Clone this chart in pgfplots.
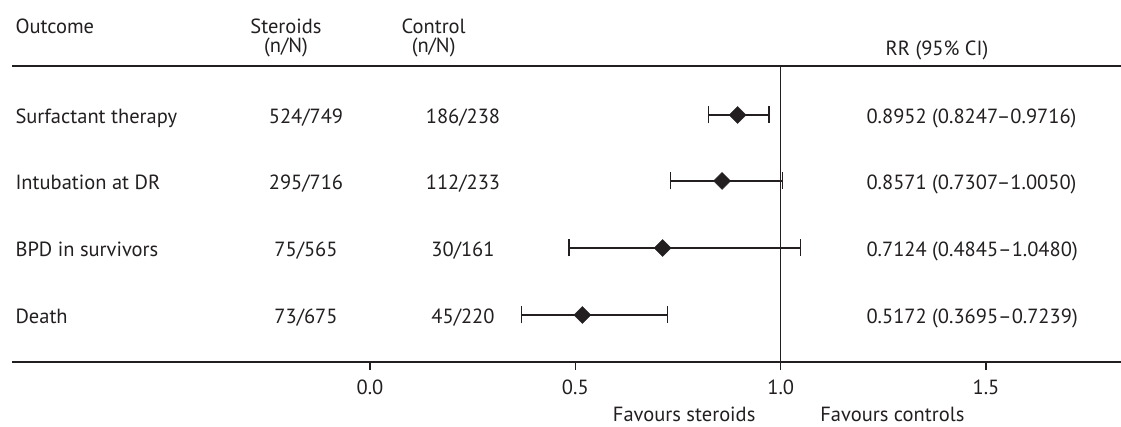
\documentclass[border=0pt]{standalone}
\usepackage{pgfplots}
\pgfplotsset{compat=1.18}
\usepackage{fontspec}
\setmainfont{PT Sans}
\definecolor{ink}{HTML}{231F20}
\begin{document}
\begin{tikzpicture}[x=1pt,y=1pt,font=\fontsize{20.5}{24}\selectfont,text=ink]
\begin{axis}[
  at={(12pt,65pt)}, anchor=south west,
  scale only axis, width=1109pt, height=296pt,
  xmin=-0.8717, xmax=1.8286, ymin=65, ymax=361,
  axis x line=box, axis y line=none,
  axis line style={ink, line width=1.2pt},
  xtick={0,0.5,1,1.5}, xticklabels={0.0,0.5,1.0,1.5},
  xtick pos=lower, xticklabel pos=lower,
  tick align=outside, major tick length=8pt,
  tick style={ink, line width=1.1pt},
  xticklabel style={anchor=base, font=\fontsize{20.5}{24}\selectfont, text=ink, yshift=-25pt},
  ytick=\empty,
  clip=false,
]
\addplot[ink, line width=1.1pt] coordinates {(1,65) (1,361)};
\addplot[ink, only marks, mark=square*, mark size=6pt,
  mark options={rotate=45, fill=ink, draw=ink},
  error bars/.cd, x dir=both, x explicit,
  error mark=|, error mark options={ink, line width=1.1pt, mark size=8.5pt, rotate=0},
  error bar style={ink, line width=1.1pt}]
coordinates {
  (0.8952,312) += (0.0764,0) -= (0.0705,0)
  (0.8571,246) += (0.1479,0) -= (0.1264,0)
  (0.7124,179) += (0.3356,0) -= (0.2279,0)
  (0.5172,112) += (0.2067,0) -= (0.1477,0)
};
% header
\node[anchor=base west] at (axis cs:-0.8717,393.5) {Outcome};
\node[anchor=base] at (axis cs:-0.2045,393.5) {Steroids};
\node[anchor=base] at (axis cs:-0.2045,374) {(n/N)};
\node[anchor=base] at (axis cs:0.155,393.5) {Control};
\node[anchor=base] at (axis cs:0.155,374) {(n/N)};
\node[anchor=base] at (axis cs:1.3806,371) {RR (95\% CI)};
% rows
\node[anchor=base west] at (axis cs:-0.8717,303.5) {Surfactant therapy};
\node[anchor=base west] at (axis cs:-0.8717,237.5) {Intubation at DR};
\node[anchor=base west] at (axis cs:-0.8717,170.5) {BPD in survivors};
\node[anchor=base west] at (axis cs:-0.8717,103.5) {Death};
\node[anchor=base] at (axis cs:-0.1558,303.5) {524/749};
\node[anchor=base] at (axis cs:-0.1558,237.5) {295/716};
\node[anchor=base] at (axis cs:-0.1558,170.5) {75/565};
\node[anchor=base] at (axis cs:-0.1558,103.5) {73/675};
\node[anchor=base] at (axis cs:0.2264,303.5) {186/238};
\node[anchor=base] at (axis cs:0.2264,237.5) {112/233};
\node[anchor=base] at (axis cs:0.2264,170.5) {30/161};
\node[anchor=base] at (axis cs:0.2264,103.5) {45/220};
\node[anchor=base west] at (axis cs:1.2004,303.5) {0.8952 (0.8247–0.9716)};
\node[anchor=base west] at (axis cs:1.2004,237.5) {0.8571 (0.7307–1.0050)};
\node[anchor=base west] at (axis cs:1.2004,170.5) {0.7124 (0.4845–1.0480)};
\node[anchor=base west] at (axis cs:1.2004,103.5) {0.5172 (0.3695–0.7239)};
% favours
\node[anchor=base, inner sep=0pt] at (axis cs:0.765,5) {Favours steroids};
\node[anchor=base, inner sep=0pt] at (axis cs:1.272,5) {Favours controls};
\end{axis}
\pgfresetboundingbox
\useasboundingbox (0,0) rectangle (1121pt,427pt);
\end{tikzpicture}
\end{document}
